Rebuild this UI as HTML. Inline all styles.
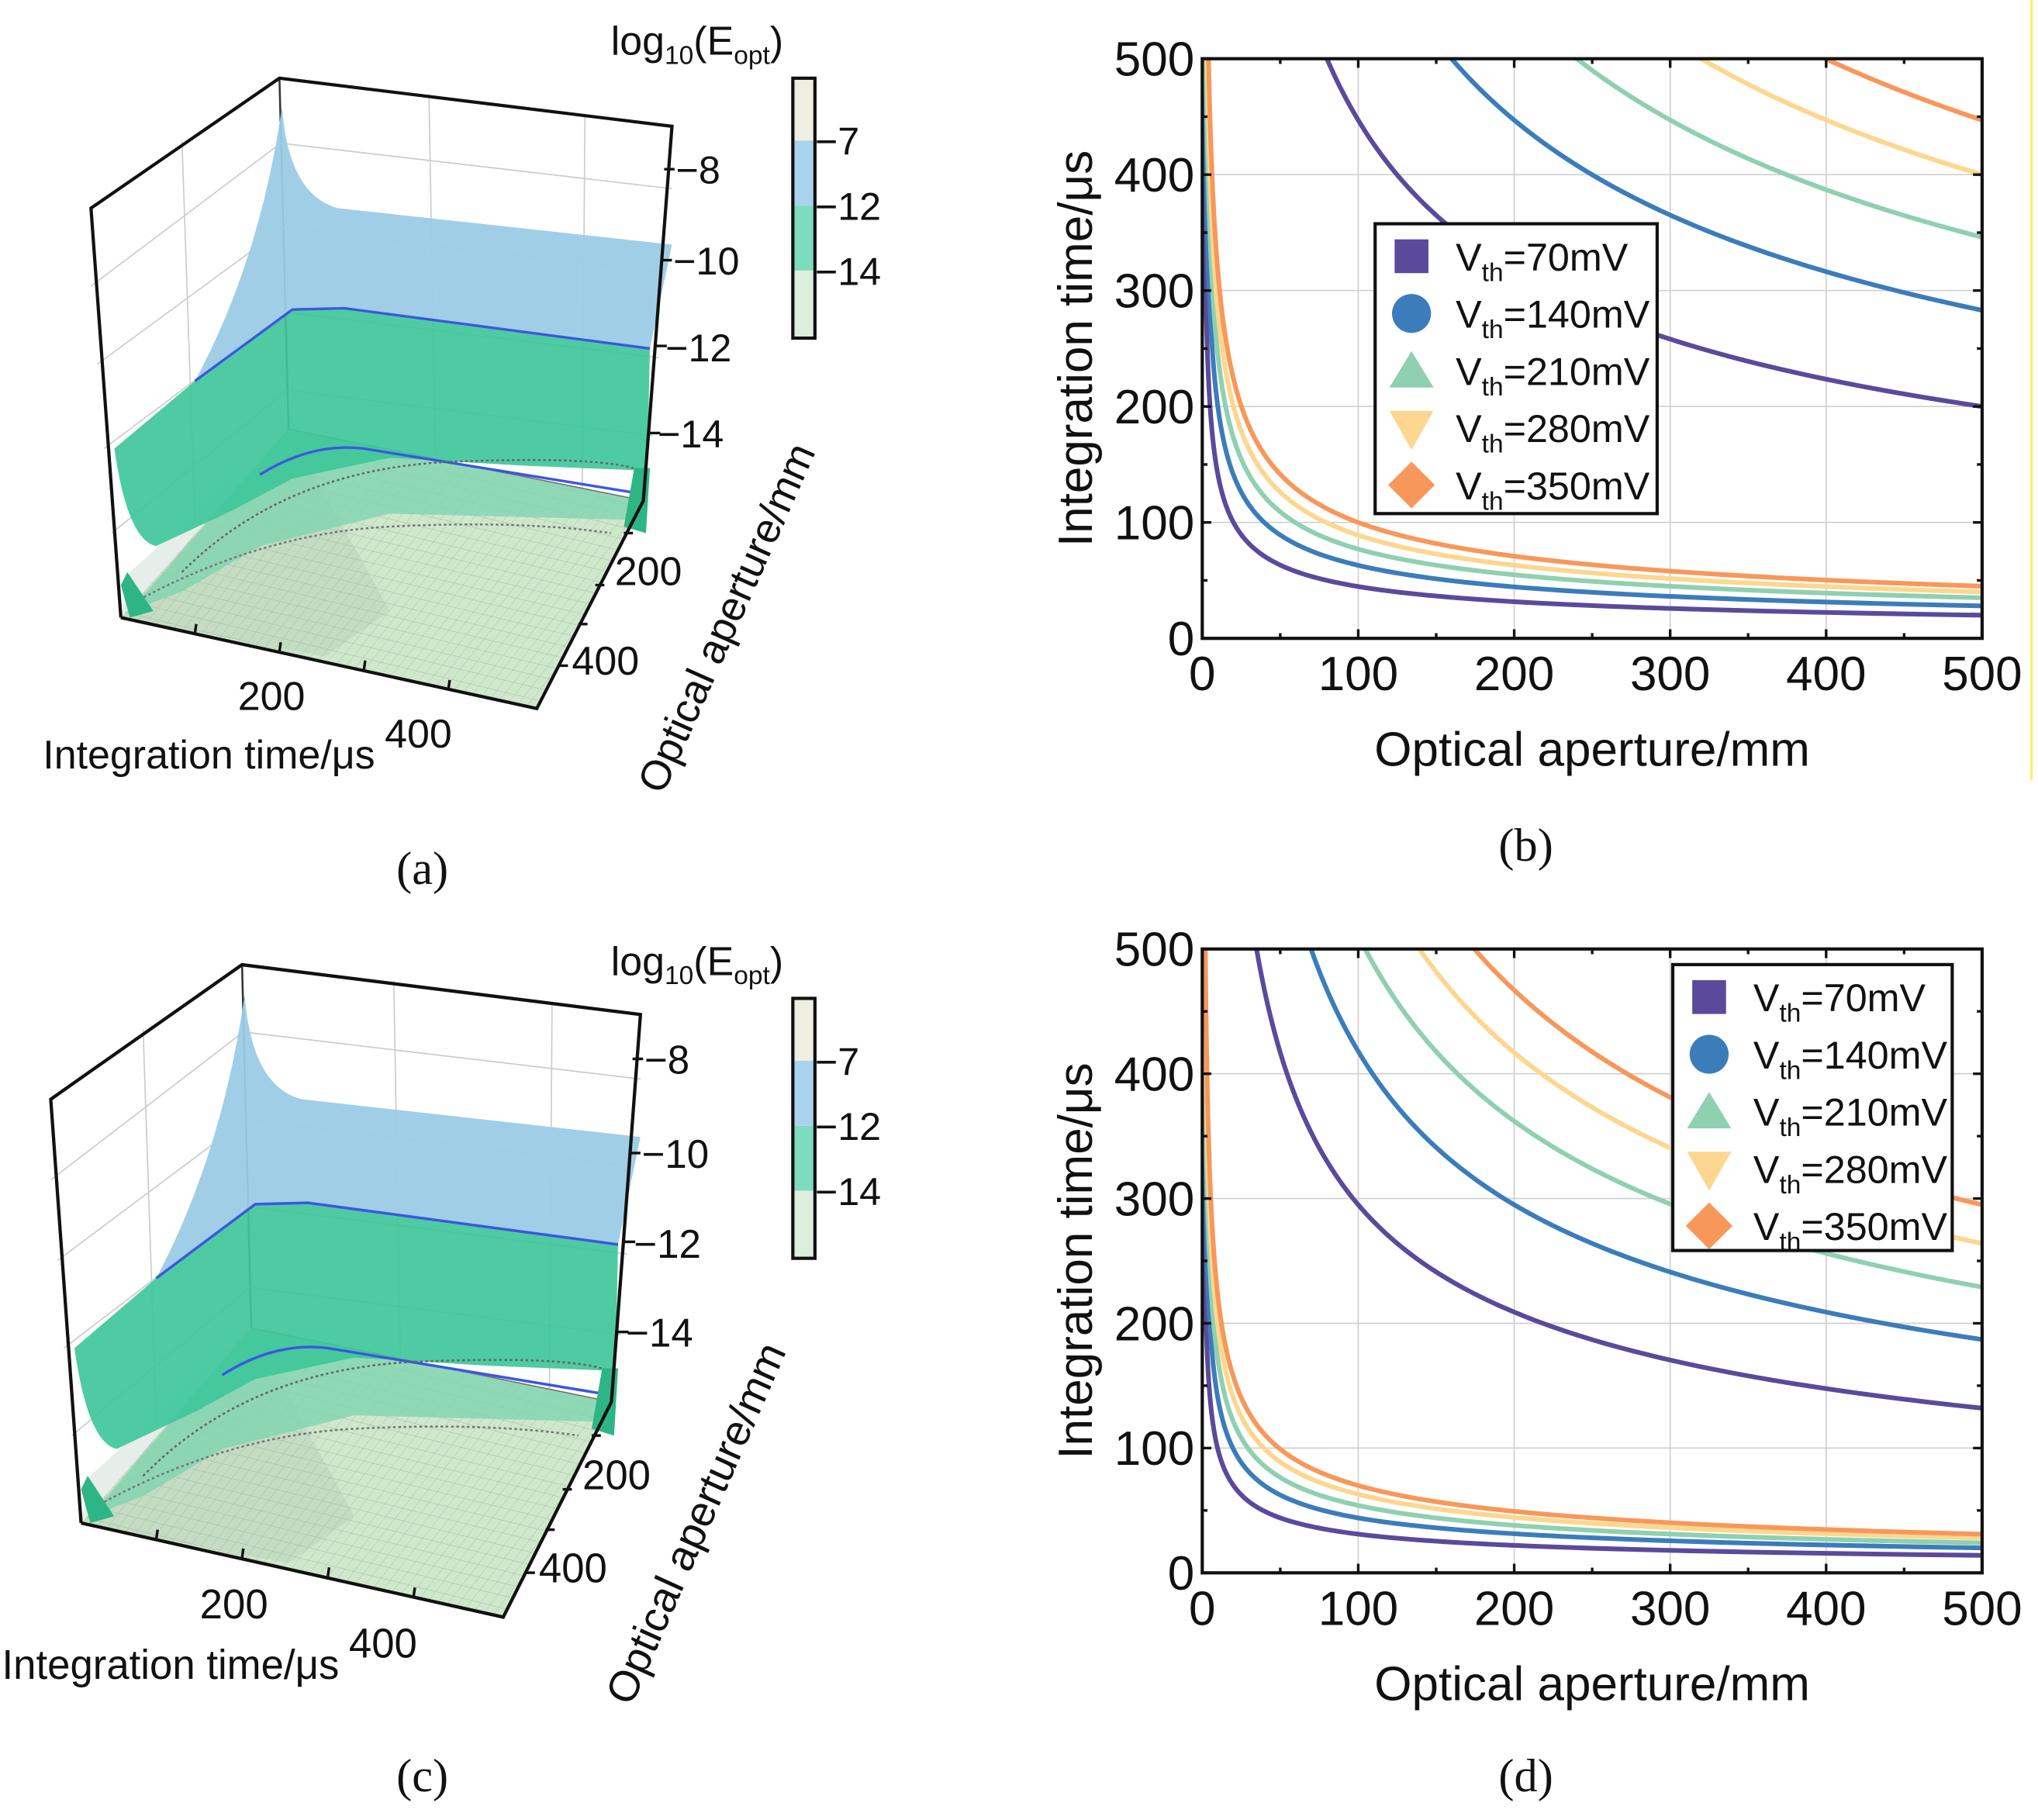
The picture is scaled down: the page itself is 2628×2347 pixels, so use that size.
<!DOCTYPE html>
<html><head><meta charset="utf-8"><style>
html,body{margin:0;padding:0;background:#fff}
svg{display:block}
text{font-family:"Liberation Sans",sans-serif;fill:#111}
.serif{font-family:"Liberation Serif",serif}
</style></head><body>
<svg id="fig" width="2628" height="2347" viewBox="0 0 1568 1400" xmlns="http://www.w3.org/2000/svg">
<defs>
<clipPath id="clipB"><rect x="925" y="45" width="600" height="446"/></clipPath>
<clipPath id="clipD"><rect x="925" y="730" width="600" height="480"/></clipPath>
<pattern id="floorgrid" width="8" height="8" patternUnits="userSpaceOnUse" patternTransform="skewX(-30) rotate(12)">
<path d="M0 0H8M0 0V8" stroke="#9aa89a" stroke-width="0.6" fill="none"/></pattern>
</defs>

<g id="panel-a">
 <g>
  <polygon points="93,475 413,545 495,385 222,330" fill="#cfe8cc"/>
  <polygon points="93,475 413,545 495,385 222,330" fill="url(#floorgrid)" opacity="0.7"/>
  <polygon points="93,475 250,505 300,470 222,330 100,440" fill="#9fb7a3" opacity="0.25"/>
  <polygon points="222,330 495,385 495,400 300,395 200,420 140,455 100,470" fill="#7fd4b0" opacity="0.8"/>
  <path d="M100,465 Q200,410 300,405 T470,410" stroke="#777" stroke-width="1.5" stroke-dasharray="2,2" fill="none"/>
  <polygon points="93,450 100,475 118,470 98,440" fill="#2eb585"/>
  <line x1="215" y1="60" x2="222" y2="330" stroke="#333" stroke-width="1.5"/>
  <line x1="222" y1="330" x2="495" y2="385" stroke="#777" stroke-width="1"/>
  <g stroke="#ccc" stroke-width="1" fill="none">
   <line x1="140" y1="108" x2="150" y2="400"/><line x1="330" y1="72" x2="335" y2="350"/><line x1="450" y1="88" x2="448" y2="375"/>
   <line x1="70" y1="220" x2="216" y2="110"/><line x1="75" y1="280" x2="218" y2="175"/><line x1="80" y1="345" x2="220" y2="240"/><line x1="86" y1="410" x2="221" y2="300"/>
   <line x1="216" y1="110" x2="517" y2="145"/><line x1="218" y1="175" x2="512" y2="210"/><line x1="220" y1="240" x2="507" y2="275"/><line x1="221" y1="300" x2="502" y2="335"/>
  </g>
  <path d="M217,82 Q222,150 260,160 L517,188 L500,268 L265,237 L225,238 L150,293 Q200,200 217,82 Z" fill="#9ccbe6" opacity="0.95"/>
  <path d="M150,293 L225,238 L265,237 L500,268 L498,362 L400,358 L300,352 L225,368 L180,392 L120,420 Q98,415 88,345 Z" fill="#3fc79a" opacity="0.92"/>
  <path d="M150,293 L225,238 L265,237 L500,268" stroke="#3b57e0" stroke-width="2" fill="none"/>
  <path d="M200,365 Q240,340 280,345 L495,380" stroke="#3b57e0" stroke-width="2" fill="none"/>
  <path d="M140,440 Q220,360 350,355 T498,365" stroke="#666" stroke-width="1.5" stroke-dasharray="2,2" fill="none"/>
  <polygon points="488,360 500,360 497,410 480,405" fill="#2eb585"/>
  <polyline points="93,475 70,160 215,60 517,97 495,385 413,545 93,475" fill="none" stroke="#111" stroke-width="2.5"/>
  <g stroke="#111" stroke-width="2">
   <line x1="150" y1="487" x2="151" y2="480"/><line x1="215" y1="501" x2="216" y2="494"/><line x1="280" y1="515" x2="281" y2="508"/><line x1="345" y1="530" x2="346" y2="523"/>
   <line x1="480" y1="410" x2="487" y2="410"/><line x1="458" y1="450" x2="465" y2="450"/><line x1="445" y1="480" x2="452" y2="480"/><line x1="430" y1="512" x2="437" y2="512"/>
   <line x1="511" y1="130" x2="519" y2="130"/><line x1="509" y1="200" x2="517" y2="200"/><line x1="505" y1="266" x2="513" y2="266"/><line x1="500" y1="333" x2="508" y2="333"/>
  </g>
 </g>
 <g font-size="30">
  <text x="520" y="141">−8</text><text x="518" y="211">−10</text><text x="512" y="278">−12</text><text x="506" y="344">−14</text>
 </g>
 <text x="183" y="546" font-size="31">200</text>
 <text x="296" y="575" font-size="31">400</text>
 <text x="33" y="591" font-size="31">Integration time/μs</text>
 <text x="473" y="450" font-size="31">200</text>
 <text x="440" y="519" font-size="31">400</text>
 <text transform="translate(510,612) rotate(-66)" font-size="32">Optical aperture/mm</text>
</g>

<g>
 <use href="#panel-a" transform="translate(-32,680) scale(1.015,1.035)"/>
</g>

<g>
 <text x="470" y="42" font-size="31">log<tspan font-size="20" dy="7">10</tspan><tspan dy="-7">(E</tspan><tspan font-size="20" dy="7">opt</tspan><tspan dy="-7">)</tspan></text>
 <rect x="610" y="60" width="17" height="48" fill="#eeeee2"/><rect x="610" y="108" width="17" height="50" fill="#a9d3ec"/>
 <rect x="610" y="158" width="17" height="50" fill="#7ddcbd"/><rect x="610" y="208" width="17" height="52" fill="#dcefdd"/>
 <rect x="610" y="60" width="17" height="200" fill="none" stroke="#111" stroke-width="2.5"/>
 <g font-size="30"><text x="627" y="119">−7</text><text x="627" y="169">−12</text><text x="627" y="219">−14</text></g>
</g>
<g>
 <text x="470" y="750" font-size="31">log<tspan font-size="20" dy="7">10</tspan><tspan dy="-7">(E</tspan><tspan font-size="20" dy="7">opt</tspan><tspan dy="-7">)</tspan></text>
 <rect x="610" y="768" width="17" height="48" fill="#eeeee2"/><rect x="610" y="816" width="17" height="50" fill="#a9d3ec"/>
 <rect x="610" y="866" width="17" height="50" fill="#7ddcbd"/><rect x="610" y="916" width="17" height="52" fill="#dcefdd"/>
 <rect x="610" y="768" width="17" height="200" fill="none" stroke="#111" stroke-width="2.5"/>
 <g font-size="30"><text x="627" y="827">−7</text><text x="627" y="877">−12</text><text x="627" y="927">−14</text></g>
</g>

<text class="serif" x="305" y="680" font-size="36">(a)</text>
<text class="serif" x="1153" y="662" font-size="36">(b)</text>
<text class="serif" x="305" y="1378" font-size="36">(c)</text>
<text class="serif" x="1153" y="1378" font-size="36">(d)</text>
<line x1="1563" y1="0" x2="1563" y2="600" stroke="#ffee66" stroke-width="2"/>
<g id="chartB"></g>
<g id="chartD"></g>
</svg>
<script>
const seriesNames = ["70mV","140mV","210mV","280mV","350mV"];
const seriesColors = ["#5b4a9b","#3b7dbb","#8fd0b0","#fdd78f","#f7985a"];
const lowerApertures = [1,5,20,100,500];
const upperApertures = [20,50,100,200,500];
const xTicks = [0,100,200,300,400,500];
const yTicks = [0,100,200,300,400,500];
const bLower70 = [447,200,100,44.7,20];
const bLower140 = [632,283,141,63,28];
const bLower210 = [774,346,173,77,35];
const bLower280 = [894,400,200,89,40];
const bLower350 = [1000,447,224,100,45];
const bUpper70 = [1000,632,447,316,200];
const bUpper140 = [1414,894,632,447,283];
const bUpper210 = [1732,1095,775,548,346];
const bUpper280 = [2000,1265,894,632,400];
const bUpper350 = [2236,1414,1000,707,447];
const dLower70 = [313,140,70,31,14];
const dLower140 = [443,198,99,44,20];
const dLower210 = [542,242,121,54,24];
const dLower280 = [626,280,140,63,28];
const dLower350 = [700,313,157,70,31];
const dUpper70 = [660,417,295,209,132];
const dUpper140 = [934,590,418,295,187];
const dUpper210 = [1143,723,511,362,229];
const dUpper280 = [1320,835,590,417,264];
const dUpper350 = [1476,933,660,467,295];

const NS="http://www.w3.org/2000/svg";
function mk(tag,attrs,parent){const e=document.createElementNS(NS,tag);for(const k in attrs)e.setAttribute(k,attrs[k]);parent.appendChild(e);return e;}

function drawChart(gid,clip,T,B,lowers,uppers,legend){
  const g=document.getElementById(gid);
  const L=925,R=1525;
  const xs=a=>L+a/500*(R-L);
  const ys=t=>B-t/500*(B-T);
  const grid=mk('g',{},g);
  
  
  xTicks.forEach(v=>{mk('line',{x1:xs(v),x2:xs(v),y1:T,y2:B,stroke:'#d0d0d0','stroke-width':1},grid);});
  yTicks.forEach(v=>{mk('line',{x1:L,x2:R,y1:ys(v),y2:ys(v),stroke:'#d0d0d0','stroke-width':1},grid);});
  const cg=mk('g',{'clip-path':'url(#'+clip+')'},g);
  function curve(aps,vals,color,name){
    let d='';
    for(let i=0;i<aps.length-1;i++){
      const la0=Math.log(aps[i]),la1=Math.log(aps[i+1]),lv0=Math.log(vals[i]),lv1=Math.log(vals[i+1]);
      for(let k=0;k<=40;k++){
        const f=k/40;const a=Math.exp(la0+(la1-la0)*f);const v=Math.exp(lv0+(lv1-lv0)*f);
        d+=(d?'L':'M')+xs(a).toFixed(2)+','+ys(Math.min(v,560)).toFixed(2);
      }
    }
    const p=mk('path',{d:d,stroke:color,'stroke-width':3.6,fill:'none'},cg);
    
    
  }
  seriesNames.forEach((n,i)=>{curve(lowerApertures,lowers[i],seriesColors[i],'curve-lower-'+n);curve(upperApertures,uppers[i],seriesColors[i],'curve-upper-'+n);});
  mk('rect',{x:L,y:T,width:R-L,height:B-T,fill:'none',stroke:'#111','stroke-width':2.5},g);
  const tg=mk('g',{stroke:'#111','stroke-width':2},g);
  for(let v=0;v<=500;v+=50){
    const len=v%100===0?7:4;
    mk('line',{x1:xs(v),x2:xs(v),y1:B,y2:B-len},tg);mk('line',{x1:xs(v),x2:xs(v),y1:T,y2:T+len},tg);
    mk('line',{x1:L,x2:L+len,y1:ys(v),y2:ys(v)},tg);mk('line',{x1:R,x2:R-len,y1:ys(v),y2:ys(v)},tg);
  }
  xTicks.forEach(v=>{const t=mk('text',{x:xs(v),y:B+40,'font-size':37,'text-anchor':'middle'},g);t.textContent=v;
    
    });
  yTicks.forEach(v=>{const t=mk('text',{x:L-6,y:ys(v)+13,'font-size':37,'text-anchor':'end'},g);t.textContent=v;
    
    });
  const xt=mk('text',{x:(L+R)/2,y:B+98,'font-size':37,'text-anchor':'middle'},g);xt.textContent='Optical aperture/mm';
  
  
  const yt=mk('text',{transform:'translate(840,'+((T+B)/2)+') rotate(-90)','font-size':37,'text-anchor':'middle'},g);yt.textContent='Integration time/μs';
  
  
  const lg=mk('g',{},g);
  
  
  mk('rect',{x:legend.x,y:legend.y,width:legend.w,height:legend.h,fill:'#fff',stroke:'#111','stroke-width':2.5},lg);
  seriesNames.forEach((n,i)=>{
    const cy=legend.y+25+i*44, mx=legend.x+28;
    const c=seriesColors[i];
    if(i===0)mk('rect',{x:mx-13,y:cy-13,width:26,height:26,fill:c},lg);
    if(i===1)mk('circle',{cx:mx,cy:cy,r:15,fill:c},lg);
    if(i===2)mk('polygon',{points:`${mx-17},${cy+13} ${mx+17},${cy+13} ${mx},${cy-15}`,fill:c},lg);
    if(i===3)mk('polygon',{points:`${mx-17},${cy-13} ${mx+17},${cy-13} ${mx},${cy+17}`,fill:c},lg);
    if(i===4)mk('polygon',{points:`${mx},${cy-18} ${mx+18},${cy} ${mx},${cy+18} ${mx-18},${cy}`,fill:c},lg);
    const t=mk('text',{x:legend.x+62,y:cy+11,'font-size':30},lg);
    t.innerHTML='V<tspan font-size="20" dy="8">th</tspan><tspan dy="-8">='+n+'</tspan>';
    
    
  });
}
drawChart('chartB','clipB',45,491,[bLower70,bLower140,bLower210,bLower280,bLower350],[bUpper70,bUpper140,bUpper210,bUpper280,bUpper350],{x:1058,y:172,w:217,h:223});
drawChart('chartD','clipD',730,1210,[dLower70,dLower140,dLower210,dLower280,dLower350],[dUpper70,dUpper140,dUpper210,dUpper280,dUpper350],{x:1287,y:742,w:215,h:220});
</script>
</body></html>
